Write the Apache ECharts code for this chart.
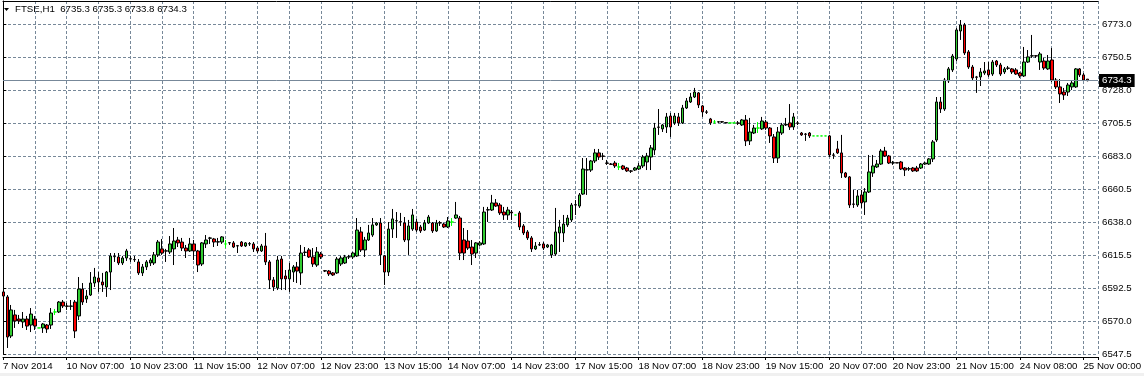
<!DOCTYPE html>
<html lang="en">
<head>
    <meta charset="UTF-8">
    <title>FTSE,H1</title>
    <script src="https://cdn.jsdelivr.net/npm/echarts@6/dist/echarts.min.js"></script>
    <style>
        html, body { margin: 0; padding: 0; background: #fff; }
    </style>
</head>
<body>
<div id="main" style="width: 1144px;height:376px;"></div>
<script type="text/javascript">
    // hourly bars, 7 Nov 2014 14:00 .. 25 Nov 2014 01:00
    var opens = [
        6589.9, 6586.5, 6559.8, 6574.2, 6571.4, 6569.4, 6571.4, 6567.3, 6571.4, 6565.3,
        6565.3, 6567.3, 6567.3, 6576.2, 6576.2, 6583.0, 6580.3, 6580.1, 6583.0, 6573.5,
        6591.9, 6585.1, 6587.8, 6596.0, 6599.4, 6596.7, 6593.3, 6603.5, 6614.0, 6613.8,
        6609.7, 6613.1, 6612.4, 6612.1, 6610.4, 6602.9, 6607.0, 6609.7, 6609.7, 6615.2,
        6619.3, 6617.8, 6617.2, 6619.3, 6625.4, 6624.0, 6619.9, 6617.9, 6622.7, 6617.9,
        6609.0, 6622.7, 6626.6, 6626.1, 6624.0, 6624.0, 6622.7, 6623.4, 6623.4, 6621.3,
        6624.0, 6621.3, 6622.7, 6622.7, 6619.9, 6617.9, 6621.3, 6610.4, 6598.1, 6592.6,
        6612.4, 6600.8, 6598.8, 6603.5, 6607.0, 6602.9, 6616.9, 6618.6, 6613.8, 6608.3,
        6615.8, 6604.4, 6604.2, 6602.9, 6602.9, 6609.0, 6609.7, 6613.8, 6613.8, 6614.5,
        6630.9, 6618.6, 6625.4, 6628.8, 6635.7, 6637.0, 6614.5, 6603.5, 6632.9, 6638.4,
        6637.9, 6637.0, 6625.4, 6632.9, 6637.7, 6634.3, 6632.2, 6637.0, 6637.0, 6631.6,
        6637.0, 6636.3, 6634.3, 6637.7, 6640.4, 6640.4, 6625.4, 6624.7, 6620.6, 6616.5,
        6622.0, 6622.7, 6645.9, 6645.9, 6650.7, 6649.3, 6644.5, 6642.5, 6644.5, 6642.5,
        6643.9, 6635.0, 6630.9, 6626.8, 6619.3, 6622.2, 6622.7, 6620.6, 6615.2, 6615.8,
        6630.2, 6630.2, 6635.7, 6639.1, 6649.3, 6648.6, 6656.8, 6673.2, 6673.2, 6679.4,
        6684.9, 6682.8, 6678.0, 6677.3, 6678.0, 6675.3, 6676.0, 6674.6, 6672.6, 6673.2,
        6673.9, 6676.0, 6678.7, 6682.1, 6686.9, 6702.6, 6701.3, 6702.6, 6710.1, 6705.4,
        6709.5, 6705.4, 6715.6, 6719.7, 6723.1, 6725.9, 6717.0, 6712.9, 6708.1, 6706.0,
        6706.0, 6706.2, 6705.4, 6705.4, 6705.4, 6705.4, 6704.0, 6707.4, 6693.1, 6698.5,
        6701.9, 6701.3, 6706.0, 6701.9, 6695.8, 6681.4, 6698.5, 6704.0, 6705.4, 6702.6,
        6705.4, 6698.5, 6697.8, 6698.5, 6696.5, 6696.5, 6696.5, 6696.5, 6696.5, 6683.5,
        6687.6, 6684.9, 6671.2, 6668.5, 6650.0, 6649.3, 6656.2, 6651.4, 6658.2, 6671.2,
        6675.3, 6677.3, 6686.2, 6682.8, 6678.0, 6678.2, 6678.7, 6674.6, 6673.9, 6674.6,
        6674.6, 6674.6, 6677.3, 6677.3, 6680.8, 6693.7, 6719.7, 6714.9, 6734.1, 6741.6,
        6749.1, 6768.2, 6772.3, 6753.9, 6743.6, 6736.8, 6736.8, 6739.5, 6741.6, 6738.8,
        6747.7, 6745.0, 6740.2, 6742.9, 6742.3, 6741.6, 6739.5, 6737.5, 6747.0, 6751.1,
        6751.3, 6747.0, 6747.7, 6742.3, 6748.4, 6734.7, 6730.0, 6726.5, 6726.5, 6730.0,
        6730.0, 6742.3, 6738.2, 6735.3
    ];
    var highs = [
        6599.4, 6587.8, 6581.0, 6577.6, 6574.2, 6576.2, 6573.5, 6578.9, 6573.5, 6565.3,
        6568.7, 6568.0, 6578.9, 6578.3, 6583.7, 6584.4, 6582.4, 6584.4, 6584.4, 6600.1,
        6596.0, 6591.2, 6603.5, 6606.3, 6603.5, 6602.9, 6604.2, 6616.5, 6616.5, 6616.5,
        6614.5, 6619.3, 6614.5, 6614.5, 6612.4, 6609.0, 6611.7, 6613.1, 6617.2, 6625.4,
        6626.1, 6619.3, 6628.1, 6633.6, 6627.5, 6626.8, 6622.0, 6626.8, 6625.4, 6618.6,
        6624.0, 6628.8, 6627.5, 6626.8, 6626.8, 6628.1, 6625.4, 6624.0, 6624.7, 6622.0,
        6624.7, 6624.0, 6624.0, 6624.0, 6621.3, 6622.7, 6630.2, 6611.7, 6600.1, 6614.5,
        6614.5, 6604.9, 6609.7, 6608.3, 6610.4, 6622.0, 6620.6, 6619.9, 6619.9, 6620.6,
        6617.2, 6604.9, 6604.9, 6603.5, 6613.8, 6614.5, 6615.2, 6615.2, 6617.2, 6640.4,
        6634.3, 6627.5, 6635.7, 6640.4, 6637.7, 6640.4, 6615.2, 6637.7, 6646.6, 6644.5,
        6643.9, 6641.1, 6639.1, 6646.6, 6639.8, 6635.7, 6639.1, 6642.5, 6637.7, 6639.1,
        6638.4, 6637.0, 6641.1, 6640.4, 6651.4, 6641.8, 6633.6, 6632.2, 6625.4, 6624.0,
        6624.7, 6648.0, 6648.0, 6656.2, 6653.4, 6650.7, 6648.0, 6648.0, 6645.9, 6642.5,
        6645.2, 6636.3, 6632.2, 6628.1, 6624.0, 6624.0, 6624.0, 6622.7, 6622.7, 6647.3,
        6639.1, 6642.5, 6642.5, 6650.7, 6652.7, 6657.5, 6681.4, 6681.4, 6680.1, 6687.6,
        6687.6, 6684.9, 6680.1, 6678.0, 6679.4, 6678.0, 6676.7, 6675.3, 6673.2, 6675.3,
        6678.0, 6683.5, 6684.9, 6690.3, 6705.4, 6714.9, 6704.7, 6712.2, 6712.2, 6712.2,
        6712.2, 6717.7, 6722.4, 6725.9, 6729.3, 6726.5, 6717.7, 6714.2, 6708.8, 6707.4,
        6706.7, 6706.7, 6705.6, 6705.4, 6705.4, 6706.7, 6708.1, 6710.8, 6708.8, 6704.0,
        6706.0, 6709.5, 6707.4, 6702.6, 6697.8, 6702.6, 6705.4, 6708.8, 6718.3, 6712.2,
        6706.7, 6699.2, 6698.5, 6699.2, 6696.5, 6696.5, 6696.5, 6696.5, 6697.2, 6684.9,
        6693.1, 6697.2, 6671.9, 6669.1, 6659.6, 6659.6, 6659.6, 6660.9, 6683.5, 6683.5,
        6680.1, 6687.6, 6689.0, 6683.5, 6679.4, 6678.2, 6679.4, 6675.3, 6675.3, 6675.3,
        6676.0, 6678.0, 6678.7, 6681.4, 6693.7, 6723.1, 6723.1, 6736.1, 6743.6, 6752.5,
        6770.3, 6775.7, 6773.7, 6755.2, 6745.0, 6737.5, 6742.9, 6747.0, 6747.0, 6748.4,
        6748.4, 6746.4, 6743.6, 6744.3, 6742.9, 6742.9, 6740.2, 6757.3, 6755.2, 6765.5,
        6751.8, 6753.9, 6749.8, 6751.8, 6756.6, 6736.1, 6735.4, 6729.3, 6732.7, 6734.7,
        6742.9, 6742.9, 6739.5, 6735.3
    ];
    var lows = [
        6583.0, 6551.6, 6558.4, 6565.3, 6568.0, 6565.3, 6563.9, 6562.5, 6563.9, 6565.3,
        6561.9, 6561.9, 6564.6, 6574.2, 6575.5, 6578.9, 6577.6, 6577.6, 6558.4, 6570.7,
        6581.0, 6582.4, 6587.1, 6593.3, 6589.9, 6589.9, 6586.5, 6591.2, 6610.4, 6608.3,
        6608.3, 6611.1, 6610.4, 6610.4, 6601.5, 6600.8, 6604.9, 6607.6, 6608.3, 6613.8,
        6615.2, 6610.4, 6615.8, 6608.3, 6620.6, 6617.9, 6613.1, 6617.2, 6611.7, 6603.5,
        6607.6, 6619.9, 6622.7, 6620.6, 6621.3, 6622.7, 6619.9, 6622.0, 6619.9, 6616.5,
        6620.6, 6620.6, 6621.3, 6617.2, 6616.5, 6617.2, 6608.3, 6591.9, 6590.6, 6591.2,
        6591.2, 6591.2, 6589.9, 6596.7, 6596.0, 6594.7, 6614.5, 6613.1, 6607.0, 6607.0,
        6612.4, 6603.5, 6600.8, 6600.8, 6602.2, 6607.6, 6609.0, 6612.4, 6612.4, 6613.8,
        6617.2, 6613.8, 6624.7, 6627.5, 6635.0, 6608.3, 6594.7, 6600.8, 6626.8, 6626.8,
        6635.0, 6624.0, 6615.2, 6631.6, 6630.9, 6630.2, 6631.6, 6636.3, 6630.2, 6630.9,
        6635.0, 6633.6, 6633.6, 6635.0, 6639.8, 6611.7, 6611.7, 6618.6, 6608.3, 6613.1,
        6621.3, 6622.0, 6637.7, 6645.2, 6648.0, 6642.5, 6639.1, 6639.1, 6639.1, 6642.5,
        6632.2, 6628.8, 6625.4, 6617.2, 6618.6, 6621.3, 6618.6, 6619.9, 6613.1, 6614.5,
        6617.2, 6624.0, 6634.3, 6637.7, 6642.5, 6647.3, 6656.2, 6656.2, 6671.9, 6678.0,
        6680.1, 6680.1, 6676.7, 6676.7, 6674.6, 6673.2, 6673.2, 6671.9, 6671.2, 6672.6,
        6673.2, 6674.6, 6673.2, 6673.2, 6683.5, 6697.2, 6699.2, 6698.5, 6695.8, 6704.0,
        6703.3, 6704.7, 6714.9, 6719.0, 6722.4, 6715.6, 6709.5, 6711.5, 6704.0, 6704.7,
        6705.4, 6705.4, 6705.4, 6705.4, 6705.4, 6704.0, 6703.3, 6689.6, 6690.3, 6697.8,
        6698.5, 6700.6, 6700.6, 6691.7, 6678.0, 6678.0, 6697.2, 6703.3, 6700.6, 6700.6,
        6704.0, 6696.5, 6693.1, 6695.1, 6696.5, 6696.5, 6696.5, 6696.5, 6682.1, 6680.8,
        6684.2, 6667.8, 6667.8, 6647.3, 6647.3, 6648.0, 6647.3, 6642.5, 6657.5, 6668.5,
        6674.6, 6676.7, 6682.1, 6677.3, 6676.7, 6678.0, 6673.2, 6669.1, 6672.6, 6671.9,
        6671.9, 6673.9, 6676.7, 6676.7, 6678.7, 6692.4, 6712.2, 6713.6, 6732.7, 6740.2,
        6747.7, 6762.1, 6751.8, 6742.3, 6734.7, 6725.9, 6730.6, 6738.2, 6736.8, 6737.5,
        6743.6, 6737.5, 6738.8, 6741.6, 6738.8, 6738.2, 6736.1, 6736.8, 6746.4, 6749.8,
        6749.8, 6741.6, 6741.6, 6741.6, 6733.4, 6728.6, 6719.0, 6721.1, 6723.8, 6727.9,
        6729.3, 6736.8, 6734.1, 6733.8
    ];
    var closes = [
        6587.1, 6559.1, 6577.6, 6570.1, 6570.1, 6571.4, 6566.6, 6574.8, 6566.6, 6565.3,
        6568.0, 6564.6, 6575.5, 6576.2, 6583.0, 6580.3, 6580.1, 6580.3, 6563.2, 6591.9,
        6583.0, 6587.1, 6596.0, 6600.1, 6596.7, 6594.7, 6603.5, 6614.5, 6614.2, 6609.7,
        6613.1, 6617.9, 6612.6, 6611.9, 6602.9, 6607.0, 6610.4, 6611.7, 6615.2, 6624.0,
        6616.5, 6618.0, 6622.7, 6624.7, 6623.4, 6619.9, 6617.9, 6622.7, 6617.9, 6608.3,
        6623.4, 6625.4, 6626.8, 6624.0, 6624.2, 6627.5, 6622.7, 6623.6, 6620.6, 6621.5,
        6621.3, 6623.4, 6622.9, 6619.3, 6617.9, 6621.3, 6610.4, 6598.1, 6593.3, 6611.7,
        6598.8, 6598.8, 6604.9, 6607.0, 6604.2, 6616.5, 6617.1, 6613.8, 6609.0, 6617.2,
        6613.8, 6604.2, 6602.2, 6601.5, 6612.4, 6613.1, 6613.8, 6614.0, 6616.5, 6632.2,
        6618.6, 6625.4, 6630.2, 6635.7, 6637.0, 6615.2, 6603.5, 6632.9, 6639.8, 6638.6,
        6637.7, 6625.4, 6635.0, 6642.5, 6632.2, 6631.6, 6637.0, 6641.1, 6631.6, 6637.0,
        6637.2, 6634.3, 6638.4, 6637.7, 6642.5, 6616.5, 6616.5, 6619.9, 6615.8, 6623.4,
        6623.4, 6644.5, 6646.1, 6650.7, 6648.6, 6643.9, 6642.5, 6645.9, 6643.9, 6642.5,
        6634.3, 6630.2, 6626.8, 6619.3, 6621.3, 6622.0, 6619.9, 6622.0, 6622.0, 6630.9,
        6634.3, 6636.3, 6640.4, 6649.3, 6649.5, 6656.2, 6673.9, 6673.4, 6679.4, 6684.9,
        6682.1, 6682.6, 6677.8, 6677.1, 6676.0, 6675.3, 6673.9, 6672.6, 6672.4, 6674.6,
        6676.0, 6682.1, 6682.8, 6688.3, 6701.9, 6702.4, 6704.0, 6709.5, 6702.6, 6710.1,
        6705.4, 6715.6, 6720.4, 6723.1, 6726.5, 6717.7, 6712.9, 6712.7, 6705.4, 6706.0,
        6706.2, 6706.0, 6705.6, 6705.4, 6705.4, 6705.2, 6707.4, 6693.1, 6699.2, 6701.9,
        6701.9, 6706.7, 6701.9, 6696.5, 6681.4, 6699.2, 6704.0, 6704.4, 6702.6, 6709.5,
        6705.2, 6697.2, 6697.6, 6696.5, 6696.5, 6696.5, 6696.5, 6696.5, 6683.5, 6683.3,
        6684.9, 6671.2, 6668.5, 6649.3, 6649.8, 6655.5, 6650.7, 6658.2, 6671.9, 6676.0,
        6677.3, 6686.2, 6682.8, 6678.0, 6678.2, 6678.0, 6673.9, 6673.2, 6674.1, 6672.6,
        6672.6, 6677.3, 6678.0, 6680.8, 6692.4, 6719.7, 6714.9, 6734.7, 6742.3, 6751.1,
        6768.9, 6772.3, 6753.2, 6743.6, 6736.1, 6736.6, 6740.2, 6740.9, 6738.2, 6747.0,
        6745.0, 6738.8, 6742.3, 6742.7, 6740.2, 6738.8, 6737.5, 6747.0, 6750.5, 6751.3,
        6751.1, 6752.5, 6742.9, 6747.7, 6734.7, 6730.0, 6725.2, 6724.5, 6731.3, 6732.7,
        6742.3, 6738.2, 6734.7, 6734.3
    ];
    // one label every 16 bars
    var xTickLabels = ['7 Nov 2014', '10 Nov 07:00', '10 Nov 23:00', '11 Nov 15:00', '12 Nov 07:00',
        '12 Nov 23:00', '13 Nov 15:00', '14 Nov 07:00', '14 Nov 23:00', '17 Nov 15:00',
        '18 Nov 07:00', '18 Nov 23:00', '19 Nov 15:00', '20 Nov 07:00', '20 Nov 23:00',
        '21 Nov 15:00', '24 Nov 08:00', '25 Nov 00:00'];
    var yTickLabels = ['6547.5', '6570.0', '6592.5', '6615.5', '6638.0', '6660.5',
        '6683.0', '6705.5', '6728.0', '6750.5', '6773.0'];

    var yMin = 6547.5, yMax = 6788.7, yStep = 22.5;
    var font = 'Liberation Sans';
    var fsize = 9.7;
    var gridCol = '#778899';
    var last = closes.length - 1;

    var candles = [];
    for (var i = 0; i < opens.length; i++) {
        candles.push([i, opens[i], closes[i], lows[i], highs[i]]);
    }
    var head = 'FTSE,H1  ' + [opens[last], highs[last], lows[last], closes[last]]
        .map(function (v) { return v.toFixed(1); }).join(' ');

    var myChart = echarts.init(document.getElementById('main'));
    var option = {
        animation: false,
        backgroundColor: '#fff',
        grid: { left: 0, right: 41.3, top: 1, bottom: 22 },
        xAxis: [
            {   // bars
                type: 'value', position: 'top', min: -0.075, max: 275.6,
                axisLine: { show: true, lineStyle: { color: '#000', width: 1 } },
                axisTick: { show: false }, axisLabel: { show: false }, splitLine: { show: false }
            },
            {   // grid every 8 bars
                type: 'value', position: 'bottom', offset: 3, min: 0, max: 34.459, interval: 1,
                axisLine: { show: true, onZero: false, lineStyle: { color: '#000', width: 1 } },
                axisTick: { show: false }, axisLabel: { show: false },
                splitLine: { show: true, lineStyle: { color: gridCol, type: [3, 2], width: 1 } }
            },
            {   // labels every 16 bars
                type: 'value', position: 'bottom', offset: 3, min: 0, max: 17.2297, interval: 1,
                axisLine: { show: false },
                axisTick: { show: true, length: 3, lineStyle: { color: '#000' } },
                splitLine: { show: false },
                axisLabel: {
                    show: true, align: 'left', margin: 4, color: '#000',
                    fontFamily: font, fontSize: fsize,
                    formatter: function (v) {
                        return Number.isInteger(v) && xTickLabels[v] ? xTickLabels[v] : '';
                    }
                }
            }
        ],
        yAxis: {
            type: 'value', position: 'right', min: yMin, max: yMax, interval: yStep,
            axisLine: { show: true, lineStyle: { color: '#000', width: 1 } },
            axisTick: { show: true, length: 3, lineStyle: { color: '#000' } },
            splitLine: { show: true, lineStyle: { color: gridCol, type: [3, 2], width: 1 } },
            axisLabel: {
                margin: 4, color: '#000', fontFamily: font, fontSize: fsize,
                formatter: function (v) {
                    var k = (v - yMin) / yStep, r = Math.round(k);
                    return Math.abs(k - r) < 1e-3 && yTickLabels[r] ? yTickLabels[r] : '';
                }
            }
        },
        graphic: [
            { type: 'polygon', shape: { points: [[4, 8], [9, 8], [6.5, 11]] }, style: { fill: '#000' } },
            { type: 'text', left: 15, top: 4, style: { text: head, font: fsize + 'px "Liberation Sans"', fill: '#000' } },
            { type: 'rect', left: 0, top: 373, shape: { width: 1144, height: 3 }, style: { fill: '#f0f0f0' } }
        ],
        series: [{
            type: 'candlestick',
            xAxisIndex: 0,
            yAxisIndex: 0,
            dimensions: ['bar', 'open', 'close', 'lowest', 'highest'],
            encode: { x: 0, y: [1, 2, 3, 4] },
            data: candles,
            barWidth: 3,
            itemStyle: {
                color: '#32cd32',
                color0: '#ff0000',
                borderColor: '#000',
                borderColor0: '#000',
                borderColorDoji: '#00ff00',
                borderWidth: 1
            },
            markLine: {
                silent: true,
                symbol: ['none', 'none'],
                lineStyle: { color: gridCol, type: 'solid', width: 1 },
                label: {
                    show: true, position: 'end', distance: 1,
                    formatter: closes[last].toFixed(1),
                    color: '#fff', backgroundColor: '#000', padding: [2, 3, 1, 3],
                    fontFamily: font, fontSize: fsize
                },
                data: [{ yAxis: closes[last] }]
            }
        }]
    };
    myChart.setOption(option);
</script>
</body>
</html>
